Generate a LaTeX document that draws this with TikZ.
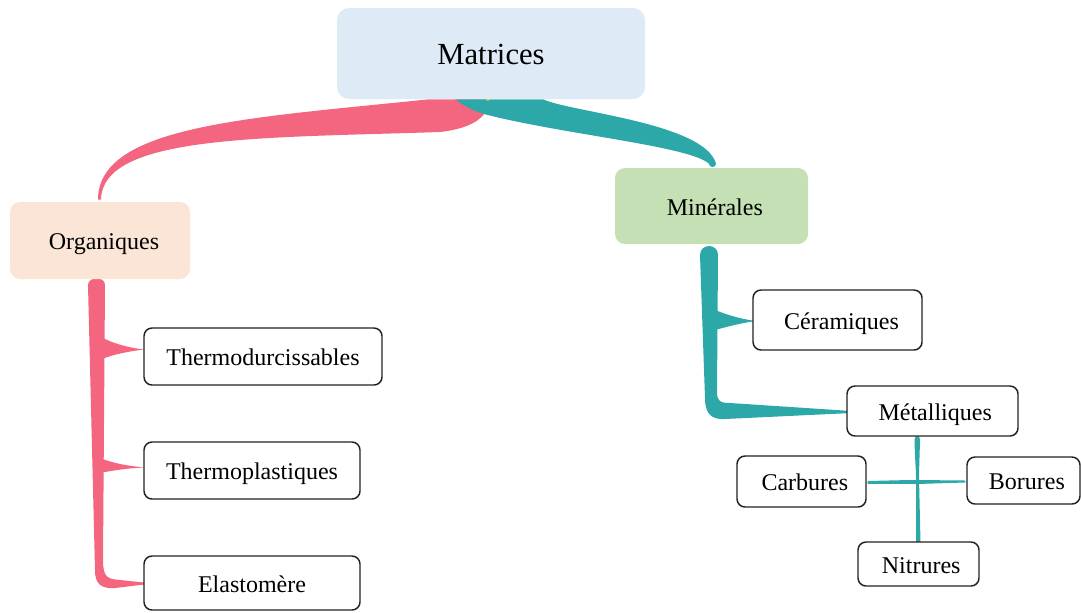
\documentclass[tikz,border=0pt]{standalone}
\usepackage{fontspec}
\setmainfont{Liberation Serif}
\usetikzlibrary{calc,backgrounds}
\definecolor{pinkc}{HTML}{F4667F}
\definecolor{tealc}{HTML}{2CA8A8}
\definecolor{matc}{HTML}{DEEAF6}
\definecolor{orgc}{HTML}{FBE5D6}
\definecolor{minc}{HTML}{C5E0B4}
\definecolor{edgec}{HTML}{222222}
\definecolor{dotc}{HTML}{C6CF6A}
\begin{document}
\begin{tikzpicture}[x=0.75pt,y=-0.75pt,
  topbox/.style={fill=matc, rounded corners=9pt, inner sep=0pt, text height=17.2pt, text depth=0pt, font=\fontsize{23}{27}\selectfont},
  catbox/.style={rounded corners=7.5pt, inner sep=0pt, text height=14pt, text depth=0pt, font=\fontsize{18}{21}\selectfont},
  leafbox/.style={draw=edgec, line width=1.1pt, fill=white, rounded corners=6pt, inner sep=0pt, text height=14pt, text depth=0pt, font=\fontsize{18}{21}\selectfont}]
\useasboundingbox (0,0) rectangle (1081,612);

% nodes
\node[topbox, minimum width=231pt, minimum height=68.25pt] (mat) at (491,53.5) {Matrices};
\node[catbox, fill=orgc, minimum width=135pt, minimum height=57.75pt] (org) at (100,240.5) {\hspace*{6pt}Organiques};
\node[catbox, fill=minc, minimum width=144.75pt, minimum height=57pt] (min) at (711.5,206) {\hspace*{5pt}Minérales};
\node[leafbox, minimum width=178.5pt, minimum height=42.75pt] (th1) at (263,356.5) {Thermodurcissables};
\node[leafbox, minimum width=162pt, minimum height=42.75pt] (th2) at (252,470.5) {Thermoplastiques};
\node[leafbox, minimum width=162pt, minimum height=40.5pt] (ela) at (252,583) {Elastomère};
\node[leafbox, minimum width=126.75pt, minimum height=45pt] (cer) at (837.5,320) {\hspace*{6pt}Céramiques};
\node[leafbox, minimum width=128.25pt, minimum height=37.5pt] (met) at (932.5,411) {\hspace*{4pt}Métalliques};
\node[leafbox, minimum width=96.75pt, minimum height=38.25pt] (car) at (801.5,481.5) {\hspace*{5pt}Carbures};
\node[leafbox, minimum width=84.75pt, minimum height=35.25pt] (bor) at (1023.5,480.5) {\hspace*{5pt}Borures};
\node[leafbox, minimum width=90.75pt, minimum height=33pt] (nit) at (918.5,564) {\hspace*{4pt}Nitrures};

\begin{scope}[on background layer]
% Matrices -> Organiques
\fill[pinkc] ($(mat.south)+(-62,0)$) .. controls (250,118) and (98,125) .. ($(org.north)+(-2,-2)$)
  -- ($(org.north)+(1,-2)$) .. controls (102,135) and (260,138) .. (440,132)
  .. controls (475,128) and (490,115) .. ($(mat.south)+(-3,0)$) -- cycle;
% Matrices -> Minerales
\fill[tealc] ($(mat.south)+(-36,0)$) -- ($(mat.south)+(52,0)$)
  .. controls (570,112) and (705,123) .. ($(min.north)+(4.5,-4)$)
  .. controls (716,168) and (709,168) .. ($(min.north)+(-2.5,-4)$)
  .. controls (690,146) and (560,134) .. (484,114)
  .. controls (470,110) and (462,104) .. ($(mat.south)+(-36,0)$) -- cycle;
\fill[dotc] ($(mat.south)+(-3,-1)$) circle[radius=2.5];

% Organiques -> leaves
\fill[pinkc] ($(org.south)+(-12,6)$) .. controls (88,276) and (105,276) .. (105,285)
  -- (103,560) .. controls (103,578) and (108,579) .. (120,580)
  -- ($(ela.west)+(1,-0.5)$) -- ($(ela.west)+(1,1.5)$) -- (115,588)
  .. controls (100,589) and (95,583) .. (95,570) -- cycle;
\fill[pinkc] (100,336) .. controls (110,343) and (130,348) .. ($(th1.west)+(1,-7)$)
  .. controls (130,351) and (110,355) .. (100,360) -- cycle;
\fill[pinkc] (100,458) .. controls (115,464) and (130,466) .. ($(th2.west)+(1,-3)$)
  .. controls (130,468) and (115,470) .. (100,473) -- cycle;

% Minerales -> leaves
\fill[tealc] ($(min.south)+(-11.5,11)$) .. controls (700,243) and (718,243) .. (718,255)
  -- (717,392) .. controls (717,401) and (720,403) .. (730,403)
  -- ($(met.west)+(5,0)$) -- ($(met.west)+(5,2)$) -- (725,419)
  .. controls (710,420) and (705,412) .. (705,398) -- cycle;
\fill[tealc] (715,310) .. controls (730,316) and (745,320) .. ($(cer.west)+(5,1)$)
  .. controls (745,322) and (730,326) .. (715,330) -- cycle;

% Metalliques -> Carbures, Borures, Nitrures
\fill[tealc] ($(met.south)+(-18,4)$) .. controls (914.5,434) and (920,434) .. (920,440)
  .. controls (919.5,460) and (919,470) .. (919,478)
  -- ($(nit.north)+(2,1)$) -- ($(nit.north)+(-2.5,1)$)
  -- (916,478) .. controls (916,470) and (915,460) .. ($(met.south)+(-18,4)$) -- cycle;
\fill[tealc] ($(car.east)+(1,-0.5)$) .. controls (890,480.5) and (905,480) .. (917,480)
  -- ($(bor.west)+(-1,0)$) -- ($(bor.west)+(-1,2)$) -- (917,484)
  .. controls (905,484) and (890,483.5) .. ($(car.east)+(1,2.5)$) -- cycle;
\end{scope}
\end{tikzpicture}
\end{document}
